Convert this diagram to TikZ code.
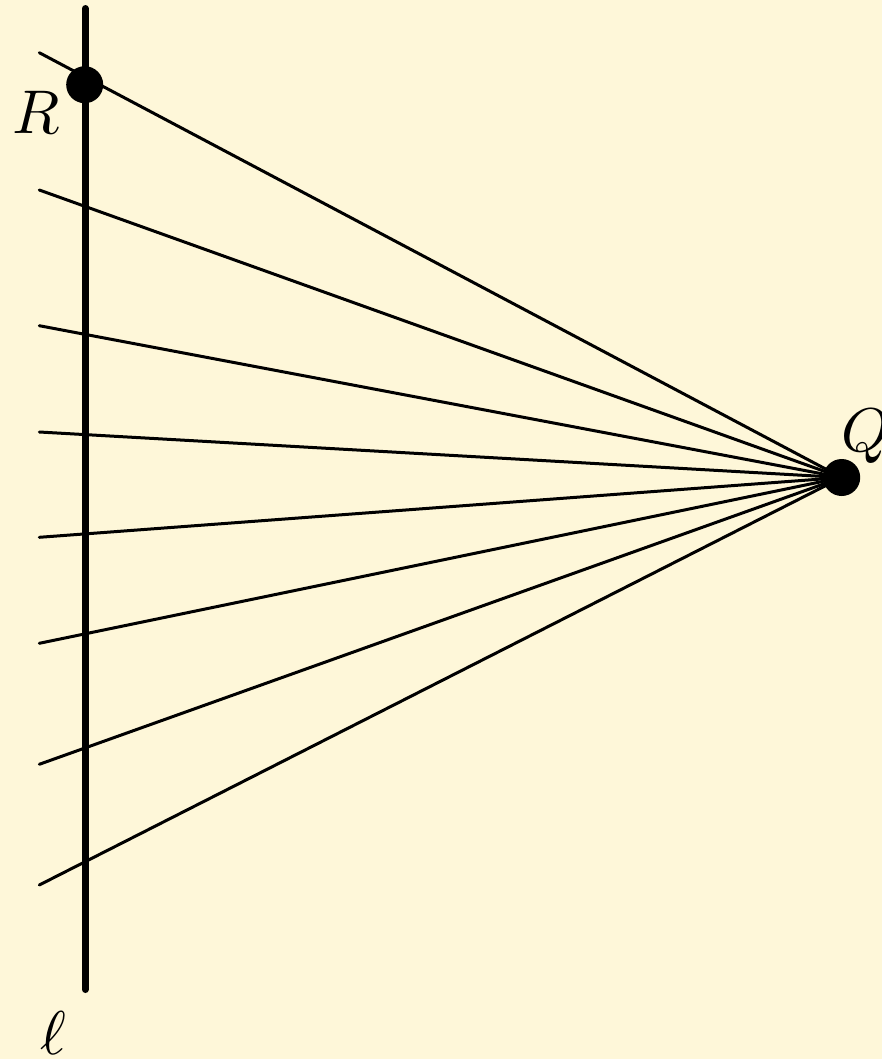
\documentclass[tikz,border=0pt]{standalone}
\definecolor{cream}{RGB}{254,247,217}
\newcommand{\biglab}[1]{\scalebox{6.2}{$#1$}}
\begin{document}
\begin{tikzpicture}[x=1bp,y=-1bp,
  ray/.style={line width=3bp,line cap=round},
  lineL/.style={line width=7bp,line cap=round},
  dot/.style={circle,fill=black,inner sep=0pt,minimum size=37bp},
  lab/.style={inner sep=0pt,anchor=base west}]
\fill[cream] (0,0) rectangle (882,1059);
\useasboundingbox (0,0) rectangle (882,1059);
\coordinate (Ltop) at (85.3,8.5);
\coordinate (Lbot) at (85.3,989.5);
\draw[lineL] (Ltop) -- (Lbot);
\node[dot] (Q) at (841.7,477.5) {};
\coordinate (P1) at (39.3,52.7);
\coordinate (P2) at (39.3,190);
\coordinate (P3) at (39.3,325.7);
\coordinate (P4) at (39.3,432);
\coordinate (P5) at (39.3,537.3);
\coordinate (P6) at (39.3,643.3);
\coordinate (P7) at (39.3,764.3);
\coordinate (P8) at (39.3,885);
\foreach \p in {P1,P2,P3,P4,P5,P6,P7,P8}
  \draw[ray] (\p) -- (Q.center);
\node[dot] (R) at (84.7,84.7) {};
\node[lab] (Rl) at (12.6,133) {\biglab{R}};
\node[lab] (Ql) at (841,451) {\biglab{Q}};
\node[lab] (ll) at (40,1054) {\biglab{\ell}};
\end{tikzpicture}
\end{document}
